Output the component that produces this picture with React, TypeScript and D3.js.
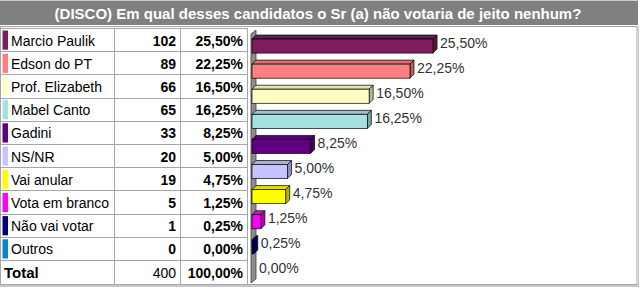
import React from "react";
import * as d3 from "d3";

const title = "(DISCO) Em qual desses candidatos o Sr (a) não votaria de jeito nenhum?";
const names = ["Marcio Paulik", "Edson do PT", "Prof. Elizabeth", "Mabel Canto", "Gadini", "NS/NR", "Vai anular", "Vota em branco", "Não vai votar", "Outros"];
const counts = [102, 89, 66, 65, 33, 20, 19, 5, 1, 0];
const percents = [25.5, 22.25, 16.5, 16.25, 8.25, 5.0, 4.75, 1.25, 0.25, 0.0];
const colors = ["#7d1f5e", "#ff8080", "#ffffc4", "#a4e2e2", "#600080", "#c4c4ff", "#ffff00", "#ff00ff", "#000080", "#0a84c6"];
const totalLabel = "Total";
const totalCount = 400;
const totalPercent = 100;

const fmt = (v: number) => v.toFixed(2).replace(".", ",") + "%";
const FONT = "Liberation Sans, Arial, Helvetica, sans-serif";

export default function App() {
  const W = 640, H = 288;
  const rowTop = 28, rowH = 23.2;
  const colX = [0.5, 114.5, 180.5, 247.5];
  const rows = d3.range(names.length + 1).map((i) => rowTop + i * rowH);

  const x = d3.scaleLinear().domain([0, 30]).range([252, 465]);
  const y = d3.scaleBand<string>().domain(names).range([33.5, 284.5]).paddingInner(0.44).paddingOuter(0.22);
  const d = 4;
  const bh = y.bandwidth();
  const x0 = x(0);

  return (
    <svg width={W} height={H} style={{ position: "fixed", left: 0, top: 0, display: "block", background: "#fff" }} fontFamily={FONT}>
      {/* title bar */}
      <rect x={0} y={0} width={638} height={25} fill="#808080" />
      <line x1={0} x2={638} y1={0.5} y2={0.5} stroke="#c8c8c8" />
      <text x={318} y={19} textAnchor="middle" fill="#fff" fontWeight="bold" fontSize={15}>{title}</text>

      {/* outer frame */}
      <rect x={0.5} y={26.5} width={636.5} height={258} fill="none" stroke="#a6a6a6" />
      <line x1={0} x2={639} y1={286} y2={286} stroke="#c8c8c8" strokeWidth={2} />
      <line x1={638.5} x2={638.5} y1={26} y2={287} stroke="#c8c8c8" strokeWidth={1} />

      {/* table grid */}
      {rows.map((ry, i) => (
        <line key={"h" + i} x1={0.5} x2={247.5} y1={Math.round(ry) + 0.5} y2={Math.round(ry) + 0.5} stroke="#a6a6a6" />
      ))}
      {colX.map((cx, i) => (
        <line key={"v" + i} x1={cx} x2={cx} y1={rowTop} y2={284.5} stroke="#a6a6a6" />
      ))}

      {names.map((n, i) => {
        const ry = rows[i];
        const base = ry + rowH / 2 + 6;
        return (
          <g key={n}>
            <rect x={2.5} y={ry + 2.5} width={5.5} height={rowH - 4} fill={colors[i]} />
            <text x={11} y={base} fontSize={14} fill="#000">{n}</text>
            <text x={176} y={base} fontSize={14} fontWeight="bold" textAnchor="end" fill="#000">{counts[i]}</text>
            <text x={243} y={base} fontSize={14} fontWeight="bold" textAnchor="end" fill="#000">{fmt(percents[i])}</text>
          </g>
        );
      })}
      {(() => {
        const base = rows[names.length] + rowH / 2 + 6;
        return (
          <g>
            <text x={4} y={base} fontSize={15} fontWeight="bold" fill="#000">{totalLabel}</text>
            <text x={176} y={base} fontSize={14} textAnchor="end" fill="#000">{totalCount}</text>
            <text x={243} y={base} fontSize={14} fontWeight="bold" textAnchor="end" fill="#000">{fmt(totalPercent)}</text>
          </g>
        );
      })()}

      {/* axis wall */}
      <polygon
        points={`${x0 - 1},283 ${x0 - 1},34 ${x0 + d},30 ${x0 + d},279`}
        fill="#8c8c8c" stroke="#404040" strokeWidth={0.8}
      />

      {/* bars */}
      {names.map((n, i) => {
        const by = y(n)!;
        const x1 = x(percents[i]);
        const c = d3.color(colors[i])!;
        const top = c.darker(0.35).formatHex();
        const side = c.darker(0.9).formatHex();
        const has = percents[i] > 0;
        return (
          <g key={"b" + n}>
            {has && (
              <>
                <polygon points={`${x0},${by} ${x0 + d},${by - d} ${x1 + d},${by - d} ${x1},${by}`} fill={top} stroke="#000" strokeWidth={0.7} />
                <polygon points={`${x1},${by} ${x1 + d},${by - d} ${x1 + d},${by + bh - d} ${x1},${by + bh}`} fill={side} stroke="#000" strokeWidth={0.7} />
                <rect x={x0} y={by} width={x1 - x0} height={bh} fill={colors[i]} stroke="#000" strokeWidth={0.7} />
              </>
            )}
            <text x={x1 + d + 3} y={by + 8.5} fontSize={14} fill="#333">{fmt(percents[i])}</text>
          </g>
        );
      })}
    </svg>
  );
}
